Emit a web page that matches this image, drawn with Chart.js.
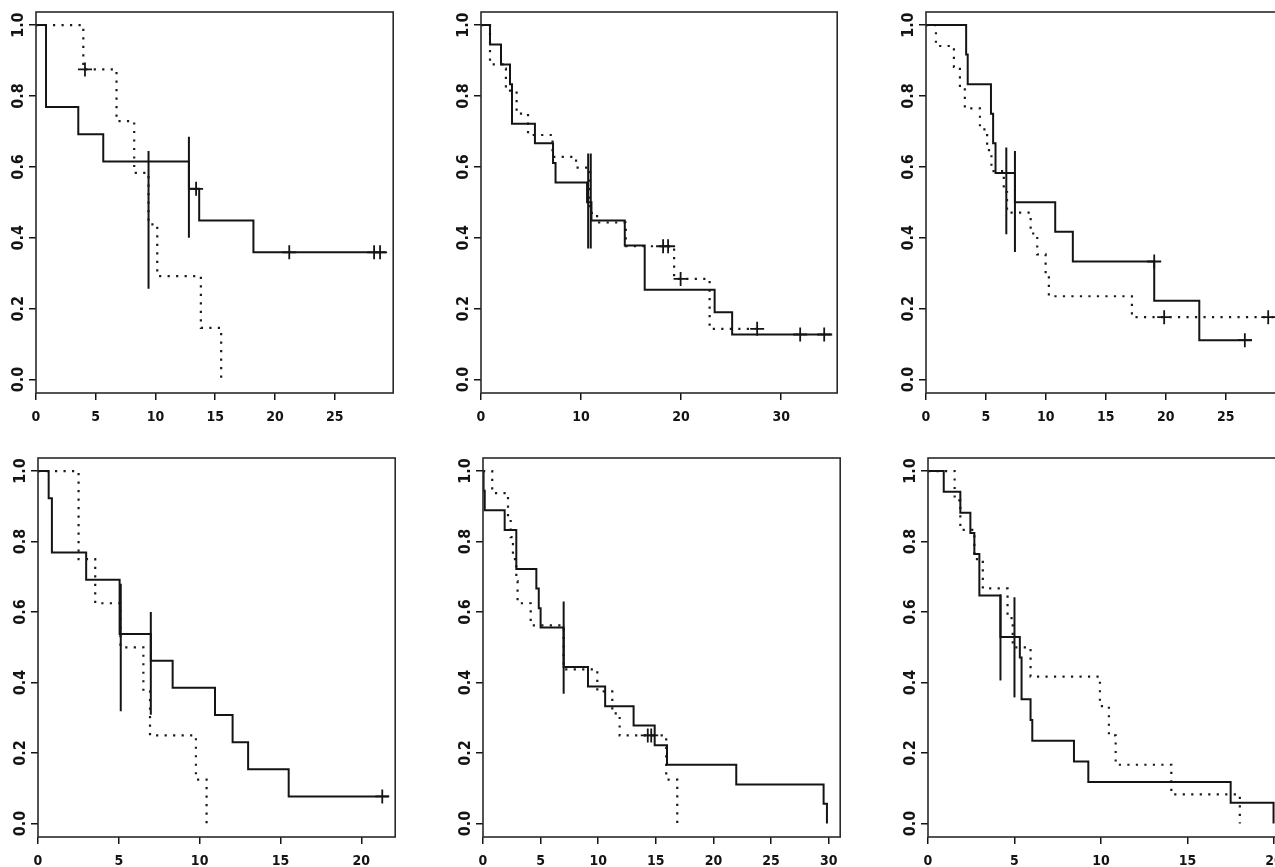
<!DOCTYPE html>
<html lang="en">
<head>
  <meta charset="UTF-8">
  <title>Survival curves</title>
  <script src="https://cdn.jsdelivr.net/npm/chart.js"></script>
  <style>
    html, body {
      margin: 0;
      padding: 0;
      background: #fff;
      width: 1275px;
      height: 867px;
      overflow: hidden;
      position: relative;
    }
    canvas {
      position: absolute;
    }
  </style>
</head>
<body>

<canvas id="c1"></canvas>
<canvas id="c2"></canvas>
<canvas id="c3"></canvas>
<canvas id="c4"></canvas>
<canvas id="c5"></canvas>
<canvas id="c6"></canvas>

<script>
  // shared y ticks
  const yTicks = [0, 0.2, 0.4, 0.6, 0.8, 1.0];

  // panel 1 (top left)
  const p1XTicks = [0, 5, 10, 15, 20, 25];
  const p1SolidT = [0, 0.84, 3.54, 5.63, 12.8, 13.66, 18.2, 29.3];
  const p1SolidS = [1, 0.769, 0.692, 0.615, 0.538, 0.449, 0.359, 0.359];
  const p1DotT = [0, 3.96, 6.74, 8.22, 9.42, 10.15, 13.8, 15.5];
  const p1DotS = [1, 0.875, 0.729, 0.583, 0.438, 0.292, 0.146, 0];
  const p1SolidCensT = [13.4, 21.2, 28.3, 28.8];
  const p1SolidCensS = [0.538, 0.359, 0.359, 0.359];
  const p1DotCensT = [4.1];
  const p1DotCensS = [0.875];
  const p1BarT = [9.42, 12.8];
  const p1BarLo = [0.256, 0.40];
  const p1BarHi = [0.645, 0.685];

  // panel 2 (top middle)
  const p2XTicks = [0, 10, 20, 30];
  const p2SolidT = [0, 0.9, 2.0, 2.9, 3.1, 5.39, 7.2, 7.45, 10.6, 11.04, 14.37, 16.36, 23.35, 25.1, 35.1];
  const p2SolidS = [1, 0.945, 0.889, 0.833, 0.722, 0.667, 0.611, 0.556, 0.5, 0.449, 0.378, 0.253, 0.19, 0.127, 0.127];
  const p2DotT = [0, 0.9, 2.16, 2.49, 3.56, 4.7, 7.15, 9.5, 10.9, 11.6, 14.47, 19.3, 22.85, 28.2];
  const p2DotS = [1, 0.889, 0.877, 0.815, 0.75, 0.69, 0.628, 0.598, 0.47, 0.443, 0.376, 0.284, 0.143, 0.143];
  const p2SolidCensT = [31.9, 34.3];
  const p2SolidCensS = [0.127, 0.127];
  const p2DotCensT = [18.2, 18.7, 19.95, 27.6];
  const p2DotCensS = [0.376, 0.376, 0.284, 0.143];
  const p2BarT = [10.71, 10.97];
  const p2BarLo = [0.37, 0.37];
  const p2BarHi = [0.638, 0.638];

  // panel 3 (top right)
  const p3XTicks = [0, 5, 10, 15, 20, 25];
  const p3SolidT = [0, 3.35, 3.48, 5.42, 5.6, 5.8, 7.42, 10.78, 12.25, 19.04, 22.8, 27.2];
  const p3SolidS = [1, 0.917, 0.833, 0.75, 0.667, 0.583, 0.5, 0.417, 0.333, 0.222, 0.111, 0.111];
  const p3DotT = [0, 0.83, 2.33, 2.83, 3.24, 4.5, 5.1, 5.46, 6.49, 6.76, 8.73, 9.28, 9.98, 10.25, 17.18, 29.0];
  const p3DotS = [1, 0.941, 0.882, 0.824, 0.765, 0.706, 0.647, 0.588, 0.529, 0.471, 0.412, 0.353, 0.294, 0.235, 0.176, 0.176];
  const p3SolidCensT = [19.04, 26.6];
  const p3SolidCensS = [0.333, 0.111];
  const p3DotCensT = [19.87, 28.55];
  const p3DotCensS = [0.176, 0.176];
  const p3BarT = [6.7, 7.42];
  const p3BarLo = [0.41, 0.36];
  const p3BarHi = [0.655, 0.645];

  // panel 4 (bottom left)
  const p4XTicks = [0, 5, 10, 15, 20];
  const p4SolidT = [0, 0.66, 0.86, 2.98, 5.05, 6.98, 8.33, 10.95, 12.04, 13.0, 15.51, 21.7];
  const p4SolidS = [1, 0.923, 0.769, 0.692, 0.538, 0.462, 0.385, 0.308, 0.231, 0.154, 0.077, 0.077];
  const p4DotT = [0, 2.51, 3.54, 5.1, 6.52, 6.93, 9.77, 10.43];
  const p4DotS = [1, 0.75, 0.625, 0.5, 0.375, 0.25, 0.125, 0];
  const p4SolidCensT = [21.3];
  const p4SolidCensS = [0.077];
  const p4DotCensT = [];
  const p4DotCensS = [];
  const p4BarT = [5.12, 6.98];
  const p4BarLo = [0.319, 0.309];
  const p4BarHi = [0.68, 0.60];

  // panel 5 (bottom middle)
  const p5XTicks = [0, 5, 10, 15, 20, 25, 30];
  const p5SolidT = [0, 0.05, 0.15, 1.88, 2.89, 4.63, 4.84, 5.0, 7.0, 9.11, 10.6, 13.07, 14.9, 15.97, 21.98, 29.56, 29.85];
  const p5SolidS = [1, 0.944, 0.889, 0.833, 0.722, 0.667, 0.611, 0.556, 0.444, 0.389, 0.333, 0.278, 0.222, 0.167, 0.111, 0.056, 0];
  const p5DotT = [0, 0.8, 2.17, 2.4, 2.6, 2.89, 3.0, 4.14, 7.0, 9.92, 11.22, 11.86, 15.9, 16.86];
  const p5DotS = [1, 0.9375, 0.875, 0.8125, 0.75, 0.6875, 0.625, 0.5625, 0.4375, 0.375, 0.3125, 0.25, 0.125, 0];
  const p5SolidCensT = [];
  const p5SolidCensS = [];
  const p5DotCensT = [14.3, 14.6];
  const p5DotCensS = [0.25, 0.25];
  const p5BarT = [7.0];
  const p5BarLo = [0.368];
  const p5BarHi = [0.63];

  // panel 6 (bottom right)
  const p6XTicks = [0, 5, 10, 15, 20];
  const p6SolidT = [0, 0.91, 1.87, 2.45, 2.68, 2.97, 4.19, 5.31, 5.41, 5.93, 6.03, 8.44, 9.27, 17.5, 19.98];
  const p6SolidS = [1, 0.941, 0.882, 0.824, 0.765, 0.647, 0.529, 0.471, 0.353, 0.294, 0.235, 0.176, 0.118, 0.059, 0];
  const p6DotT = [0, 1.54, 1.87, 2.68, 3.17, 4.6, 4.9, 5.93, 9.94, 10.46, 10.85, 14.07, 18.03];
  const p6DotS = [1, 0.917, 0.833, 0.75, 0.667, 0.583, 0.5, 0.417, 0.333, 0.25, 0.167, 0.083, 0];
  const p6SolidCensT = [];
  const p6SolidCensS = [];
  const p6DotCensT = [];
  const p6DotCensS = [];
  const p6BarT = [4.19, 5.0];
  const p6BarLo = [0.406, 0.358];
  const p6BarHi = [0.65, 0.642];

  const ink = '#141414';
  const tickFont = "'DejaVu Sans Condensed', 'Liberation Sans Narrow', 'DejaVu Sans', sans-serif";

  // box around the plot region, like R's box()
  const framePlugin = {
    id: 'frame',
    afterDraw(chart) {
      const a = chart.chartArea;
      const ctx = chart.ctx;
      ctx.save();
      ctx.strokeStyle = '#2a2a2a';
      ctx.lineWidth = 1.6;
      ctx.strokeRect(a.left, a.top, a.right - a.left, a.bottom - a.top);
      ctx.restore();
    }
  };

  function pts(t, s) {
    return t.map((x, i) => ({ x: x, y: s[i] }));
  }

  function buildChart(id, pos, xMax, xTicks, solidT, solidS, dotT, dotS, sCensT, sCensS, dCensT, dCensS, barT, barLo, barHi) {
    const el = document.getElementById(id);
    el.width = pos.w;
    el.height = pos.h;
    el.style.left = pos.left + 'px';
    el.style.top = pos.top + 'px';

    const datasets = [
      {
        type: 'line',
        data: pts(solidT, solidS),
        stepped: true,
        borderColor: ink,
        borderWidth: 2,
        pointRadius: 0,
        fill: false
      },
      {
        type: 'line',
        data: pts(dotT, dotS),
        stepped: true,
        borderColor: '#1a1a1a',
        borderWidth: 2.2,
        borderDash: [2.2, 6.3],
        pointRadius: 0,
        fill: false
      },
      {
        type: 'scatter',
        data: pts(sCensT, sCensS).concat(pts(dCensT, dCensS)),
        pointStyle: 'cross',
        pointRadius: 7,
        borderColor: ink,
        borderWidth: 1.8,
        showLine: false
      }
    ];

    barT.forEach((x, i) => {
      datasets.push({
        type: 'line',
        data: [{ x: x, y: barLo[i] }, { x: x, y: barHi[i] }],
        borderColor: ink,
        borderWidth: 2,
        pointRadius: 0,
        fill: false
      });
    });

    return new Chart(el, {
      data: { datasets: datasets },
      options: {
        responsive: false,
        animation: false,
        layout: { padding: { top: 12, right: 8, left: 0, bottom: 0 } },
        plugins: {
          legend: { display: false },
          tooltip: { enabled: false }
        },
        scales: {
          x: {
            type: 'linear',
            min: 0,
            max: xMax,
            afterBuildTicks: axis => { axis.ticks = xTicks.map(v => ({ value: v })); },
            afterFit: axis => { axis.height = 30; },
            grid: { drawOnChartArea: false, drawTicks: true, tickLength: 7, color: ink, lineWidth: 1.5 },
            border: { display: false },
            ticks: {
              color: ink,
              padding: 9,
              maxRotation: 0,
              font: { family: tickFont, size: 14, weight: 'bold' },
              callback: v => String(v)
            }
          },
          y: {
            type: 'linear',
            min: -0.038,
            max: 1.037,
            afterBuildTicks: axis => { axis.ticks = yTicks.map(v => ({ value: v })); },
            afterFit: axis => { axis.width = 34; },
            grid: { drawOnChartArea: false, drawTicks: true, tickLength: 7, color: ink, lineWidth: 1.5 },
            border: { display: false },
            ticks: {
              color: ink,
              padding: -3,
              minRotation: 90,
              maxRotation: 90,
              crossAlign: 'center',
              font: { family: tickFont, size: 16, weight: 'bold' },
              callback: v => v.toFixed(1)
            }
          }
        }
      },
      plugins: [framePlugin]
    });
  }

  buildChart('c1', { left: 2, top: 0, w: 400, h: 423 }, 29.9, p1XTicks,
    p1SolidT, p1SolidS, p1DotT, p1DotS, p1SolidCensT, p1SolidCensS, p1DotCensT, p1DotCensS, p1BarT, p1BarLo, p1BarHi);
  buildChart('c2', { left: 447, top: 0, w: 399, h: 423 }, 35.6, p2XTicks,
    p2SolidT, p2SolidS, p2DotT, p2DotS, p2SolidCensT, p2SolidCensS, p2DotCensT, p2DotCensS, p2BarT, p2BarLo, p2BarHi);
  buildChart('c3', { left: 892, top: 0, w: 400, h: 423 }, 29.8, p3XTicks,
    p3SolidT, p3SolidS, p3DotT, p3DotS, p3SolidCensT, p3SolidCensS, p3DotCensT, p3DotCensS, p3BarT, p3BarLo, p3BarHi);
  buildChart('c4', { left: 4, top: 446, w: 400, h: 421 }, 22.1, p4XTicks,
    p4SolidT, p4SolidS, p4DotT, p4DotS, p4SolidCensT, p4SolidCensS, p4DotCensT, p4DotCensS, p4BarT, p4BarLo, p4BarHi);
  buildChart('c5', { left: 449, top: 446, w: 400, h: 421 }, 31.0, p5XTicks,
    p5SolidT, p5SolidS, p5DotT, p5DotS, p5SolidCensT, p5SolidCensS, p5DotCensT, p5DotCensS, p5BarT, p5BarLo, p5BarHi);
  buildChart('c6', { left: 894, top: 446, w: 400, h: 421 }, 20.7, p6XTicks,
    p6SolidT, p6SolidS, p6DotT, p6DotS, p6SolidCensT, p6SolidCensS, p6DotCensT, p6DotCensS, p6BarT, p6BarLo, p6BarHi);
</script>

</body>
</html>
